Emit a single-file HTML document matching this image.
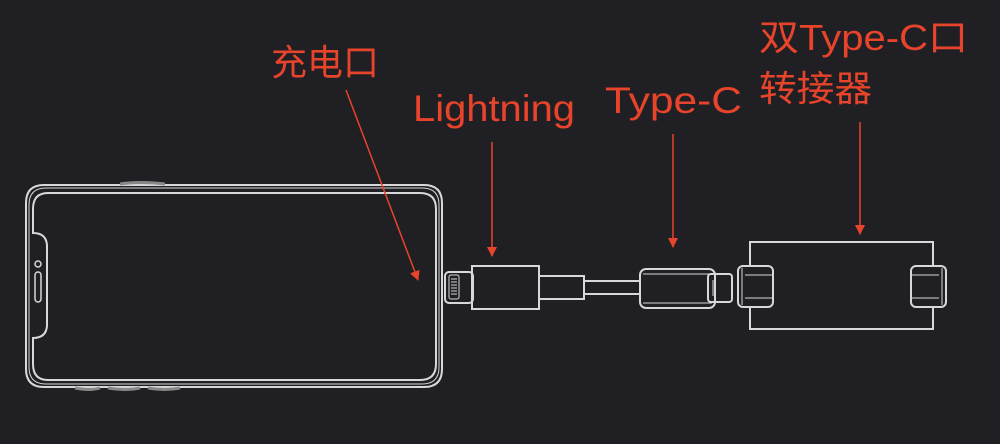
<!DOCTYPE html>
<html><head><meta charset="utf-8"><style>
html,body{margin:0;padding:0;background:#202024;}
svg{display:block}
text{font-family:"Liberation Sans","Noto Sans CJK SC",sans-serif;fill:#e8432b;}
</style></head><body>
<svg width="1000" height="444" viewBox="0 0 1000 444" xmlns="http://www.w3.org/2000/svg">
<rect width="1000" height="444" fill="#202024"/>
<defs><marker id="ah" markerWidth="10" markerHeight="10" refX="9" refY="5" orient="auto" markerUnits="userSpaceOnUse"><path d="M0,0 L10,5 L0,10 z" fill="#e8432b"/></marker></defs>
<g fill="none" stroke="#d8d8d8" stroke-width="2">
<!-- phone -->
<path d="M44,185 H424 Q442,185 442,203 V369 Q442,387 424,387 H44 Q26,387 26,369 V203 Q26,185 44,185 Z"/>
<path d="M46,188 H422 Q439,188 439,205 V367 Q439,384 422,384 H46 Q29,384 29,367 V205 Q29,188 46,188 Z" stroke-width="1"/>
<path d="M48,193 H420 Q436,193 436,209 V364 Q436,380 420,380 H48 Q33,380 33,364 V338 Q46,338 47,326 V245 Q46,233 33,233 V209 Q33,193 48,193 Z"/>
<circle cx="38" cy="264" r="3" stroke-width="1.5"/>
<rect x="35" y="272" width="6" height="30" rx="3" stroke-width="1.5"/>
<path d="M120,184 Q140,181 165,184" stroke-width="3" stroke="#888"/>
<path d="M75,388 Q90,391 100,388 M108,388 Q125,391 140,388 M148,388 Q165,391 180,388" stroke-width="3" stroke="#888"/>
<!-- lightning plug -->
<rect x="445" y="272" width="28" height="31" rx="4"/>
<rect x="449" y="275" width="10" height="24" rx="2" stroke-width="1"/>
<path d="M451,279 H457 M451,282 H457 M451,285 H457 M451,288 H457 M451,291 H457 M451,294 H457" stroke-width="1"/>
<rect x="472" y="266" width="67" height="43"/>
<rect x="539" y="276" width="45" height="23"/>
<rect x="584" y="281" width="56" height="13"/>
<!-- type-c -->
<rect x="640" y="269" width="75" height="39" rx="6"/>
<path d="M643,274 H712 M643,303 H712" stroke-width="1"/>
<rect x="708" y="274" width="24" height="28" rx="3"/>
<path d="M713,280 V296" stroke-width="1"/>
<!-- adapter -->
<rect x="750" y="242" width="183" height="87"/>
<rect x="738" y="266" width="35" height="41" rx="5" fill="#202024"/>
<path d="M742,268 V305 M745,275 H772 M745,298 H772" stroke-width="1"/>
<rect x="911" y="266" width="35" height="41" rx="5" fill="#202024"/>
<path d="M942,268 V305 M912,275 H939 M912,298 H939" stroke-width="1"/>
</g>
<g stroke="#e8432b" stroke-width="1.5" fill="none">
<line x1="346" y1="90" x2="418" y2="280" marker-end="url(#ah)"/>
<line x1="492" y1="142" x2="492" y2="256" marker-end="url(#ah)"/>
<line x1="673" y1="134" x2="673" y2="247" marker-end="url(#ah)"/>
<line x1="860" y1="122" x2="860" y2="234" marker-end="url(#ah)"/>
</g>
<text x="271" y="75" font-size="36" textLength="108" lengthAdjust="spacingAndGlyphs">充电口</text>
<text x="413" y="121" font-size="37" textLength="162" lengthAdjust="spacingAndGlyphs">Lightning</text>
<text x="605" y="113" font-size="37" textLength="137" lengthAdjust="spacingAndGlyphs">Type-C</text>
<text x="759" y="50" font-size="36" textLength="209" lengthAdjust="spacingAndGlyphs">双Type-C口</text>
<text x="759" y="101" font-size="36" textLength="113" lengthAdjust="spacingAndGlyphs">转接器</text>
</svg>
</body></html>
